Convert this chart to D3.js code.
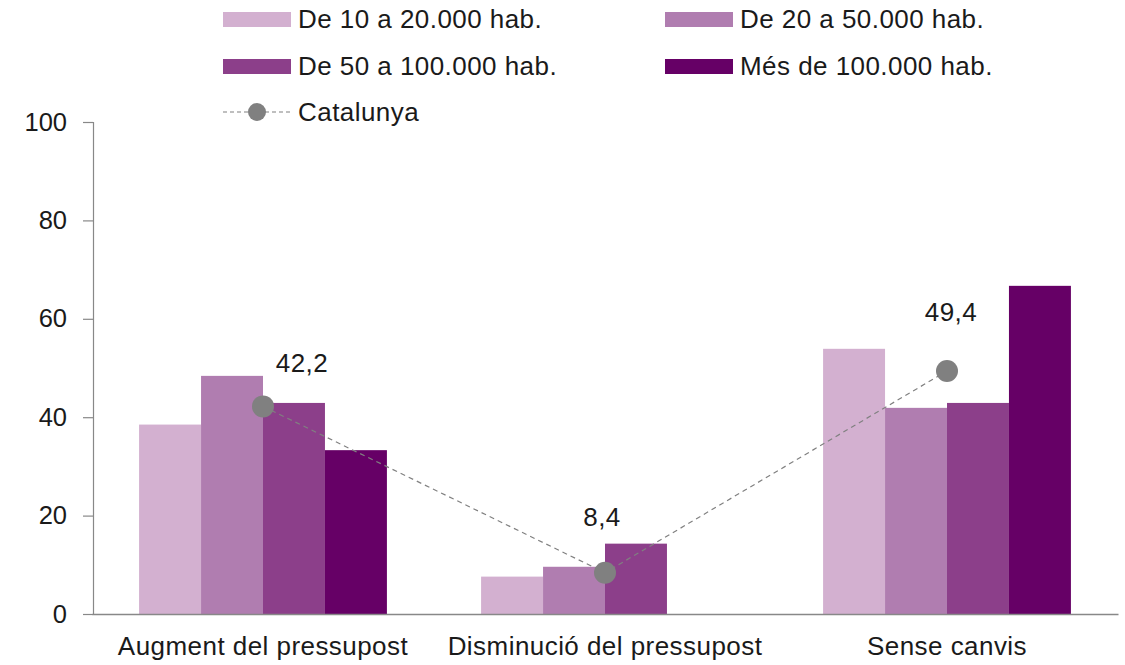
<!DOCTYPE html>
<html>
<head>
<meta charset="utf-8">
<script src="https://cdn.jsdelivr.net/npm/d3@7"></script>
<style>
  body { margin: 0; background: #fff; }
  text { font-family: "Liberation Sans", Arial, sans-serif; fill: #1a1a1a; }
</style>
</head>
<body>
<div id="chart"></div>
<script>
var categories = ['Augment del pressupost', 'Disminució del pressupost', 'Sense canvis'];
var seriesNames = ['De 10 a 20.000 hab.', 'De 20 a 50.000 hab.', 'De 50 a 100.000 hab.', 'Més de 100.000 hab.'];
var s10to20 = [38.5, 7.6, 53.9];
var s20to50 = [48.4, 9.6, 41.9];
var s50to100 = [42.9, 14.3, 42.9];
var sOver100 = [33.3, 0, 66.7];
var catalunya = [42.2, 8.4, 49.4];
var catalunyaLabels = ['42,2', '8,4', '49,4'];
var yTicks = [0, 20, 40, 60, 80, 100];

var colors = ['#d3b0d0', '#b07db0', '#8c3f8a', '#660066'];
var seriesValues = [s10to20, s20to50, s50to100, sOver100];

var width = 1125, height = 665;
var margin = {top: 122, right: 7, bottom: 51, left: 92};
var fontSize = '26px', spacing = '0.45px';

var svg = d3.select('#chart').append('svg')
    .attr('width', width)
    .attr('height', height);

var x0 = d3.scaleBand()
    .domain(categories)
    .range([margin.left, width - margin.right])
    .padding(0);

var x1 = d3.scaleBand()
    .domain(seriesNames)
    .range([0, x0.bandwidth()])
    .paddingInner(0)
    .paddingOuter(0.76);

var y = d3.scaleLinear()
    .domain([0, 100])
    .range([height - margin.bottom, margin.top]);

var color = d3.scaleOrdinal().domain(seriesNames).range(colors);

// bars
var groups = svg.selectAll('.group')
    .data(categories)
    .enter().append('g')
    .attr('class', 'group')
    .attr('transform', function(d) { return 'translate(' + x0(d) + ',0)'; });

groups.selectAll('rect')
    .data(function(d, i) {
        return seriesNames.map(function(s, j) { return {key: s, value: seriesValues[j][i]}; });
    })
    .enter().append('rect')
    .attr('x', function(d) { return x1(d.key); })
    .attr('width', x1.bandwidth())
    .attr('y', function(d) { return y(d.value); })
    .attr('height', function(d) { return y(0) - y(d.value); })
    .attr('fill', function(d) { return color(d.key); });

// axes
var yAxis = d3.axisLeft(y)
    .tickValues(yTicks)
    .tickSize(10)
    .tickPadding(16);

var gy = svg.append('g')
    .attr('transform', 'translate(' + (margin.left + 1) + ',0)')
    .call(yAxis);
gy.select('.domain').attr('stroke', '#888').attr('stroke-width', 1.2);
gy.selectAll('.tick line').attr('stroke', '#888').attr('stroke-width', 1.2);
gy.selectAll('.tick text')
    .attr('font-size', '25.5px')
    .attr('font-family', '"Liberation Sans", Arial, sans-serif')
    .attr('fill', '#1a1a1a');

var xAxis = d3.axisBottom(x0).tickSize(0).tickPadding(23);
var gx = svg.append('g')
    .attr('transform', 'translate(0,' + y(0) + ')')
    .call(xAxis);
gx.select('.domain').attr('stroke', '#888').attr('stroke-width', 1.5);
gx.selectAll('.tick text')
    .attr('font-size', fontSize)
    .attr('letter-spacing', spacing)
    .attr('font-family', '"Liberation Sans", Arial, sans-serif')
    .attr('fill', '#1a1a1a');

// Catalunya line + points
var line = d3.line()
    .x(function(d, i) { return x0(categories[i]) + x0.bandwidth() / 2; })
    .y(function(d) { return y(d); });

svg.append('path')
    .datum(catalunya)
    .attr('d', line)
    .attr('fill', 'none')
    .attr('stroke', '#808080')
    .attr('stroke-width', 1.2)
    .attr('stroke-dasharray', '5,4');

svg.selectAll('.dot')
    .data(catalunya)
    .enter().append('circle')
    .attr('class', 'dot')
    .attr('cx', function(d, i) { return x0(categories[i]) + x0.bandwidth() / 2; })
    .attr('cy', function(d) { return y(d); })
    .attr('r', 11)
    .attr('fill', '#808080');

var labelShift = [[39, -34], [-3, -47], [4, -50]];
svg.selectAll('.val')
    .data(catalunya)
    .enter().append('text')
    .attr('class', 'val')
    .attr('x', function(d, i) { return x0(categories[i]) + x0.bandwidth() / 2 + labelShift[i][0]; })
    .attr('y', function(d, i) { return y(d) + labelShift[i][1]; })
    .attr('text-anchor', 'middle')
    .attr('font-size', fontSize)
    .attr('letter-spacing', spacing)
    .text(function(d, i) { return catalunyaLabels[i]; });

// legend
var legendPos = [[223, 19], [665, 19], [223, 66], [665, 66]];
var legend = svg.selectAll('.legend')
    .data(seriesNames)
    .enter().append('g')
    .attr('class', 'legend')
    .attr('transform', function(d, i) { return 'translate(' + legendPos[i][0] + ',' + legendPos[i][1] + ')'; });

legend.append('rect')
    .attr('x', 0).attr('y', -7)
    .attr('width', 68).attr('height', 15)
    .attr('fill', function(d) { return color(d); });

legend.append('text')
    .attr('x', 75).attr('y', 0)
    .attr('dy', '0.35em')
    .attr('font-size', fontSize)
    .attr('letter-spacing', spacing)
    .text(function(d) { return d; });

var lc = svg.append('g').attr('transform', 'translate(223,112)');
lc.append('line')
    .attr('x1', 0).attr('x2', 68)
    .attr('stroke', '#808080').attr('stroke-width', 1.2)
    .attr('stroke-dasharray', '4,3');
lc.append('circle').attr('cx', 34).attr('r', 9).attr('fill', '#808080');
lc.append('text')
    .attr('x', 75).attr('dy', '0.35em')
    .attr('font-size', fontSize)
    .attr('letter-spacing', spacing)
    .text('Catalunya');
</script>
</body>
</html>
